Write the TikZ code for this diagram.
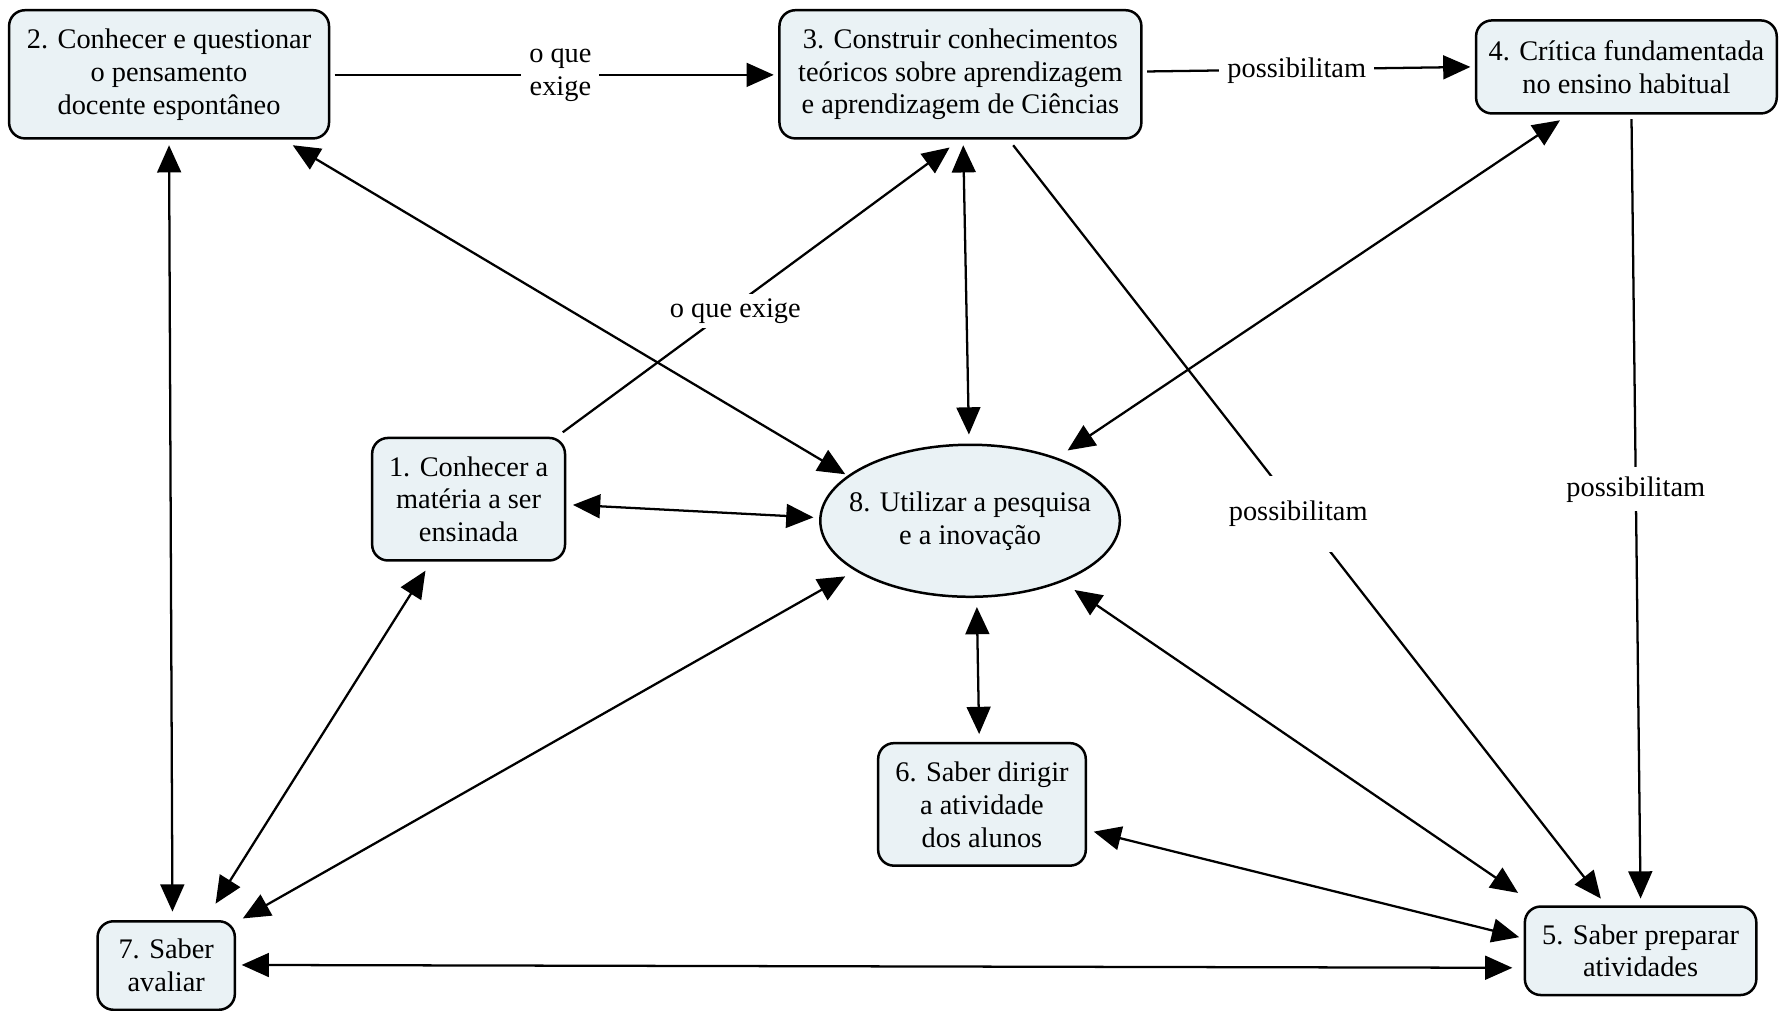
\documentclass[tikz,border=0pt]{standalone}
\usepackage{fontspec}
\setmainfont{Liberation Serif}
\usetikzlibrary{arrows.meta,shapes.geometric}
\definecolor{boxfill}{RGB}{234,242,245}
\newcommand{\fsz}{\fontsize{25pt}{29pt}\selectfont}
\begin{document}
\begin{tikzpicture}[x=1pt,y=-1pt,
  cbox/.style={draw, line width=2.2pt, rounded corners=14pt, fill=boxfill, align=center, inner sep=0pt, font=\fsz},
  cell/.style={draw, line width=2.2pt, ellipse, fill=boxfill, inner sep=0pt},
  ctext/.style={align=center, inner sep=0pt, font=\fsz},
  lbl/.style={fill=white, inner xsep=7pt, inner ysep=5pt, align=center, font=\fsz},
  conn/.style={line width=2pt, -{Triangle[length=24pt,width=21pt]}},
  bconn/.style={line width=2pt, {Triangle[length=24pt,width=21pt]}-{Triangle[length=24pt,width=21pt]}}
]
\useasboundingbox (0,0) rectangle (1568,891);

\node[cbox, minimum width=282pt, minimum height=113pt] (n2) at (149,65.5) {2. Conhecer e questionar\\o pensamento\\docente espontâneo};
\node[cbox, minimum width=319pt, minimum height=113pt] (n3) at (846.5,65.5) {3. Construir conhecimentos\\teóricos sobre aprendizagem\\e aprendizagem de Ciências};
\node[cbox, minimum width=265pt, minimum height=82pt] (n4) at (1433.5,59) {4. Crítica fundamentada\\no ensino habitual};
\node[cbox, minimum width=170pt, minimum height=108pt] (n1) at (413,440) {1. Conhecer a\\matéria a ser\\ensinada};
\node[cell, minimum width=264pt, minimum height=134pt] (n8) at (855,459) {};
\node[ctext] (n8t) at (n8.center) {8. Utilizar a pesquisa\\e a inovação};
\node[cbox, minimum width=183pt, minimum height=108pt] (n6) at (865.5,709) {6. Saber dirigir\\a atividade\\dos alunos};
\node[cbox, minimum width=121pt, minimum height=78pt] (n7) at (146.5,851) {7. Saber\\avaliar};
\node[cbox, minimum width=204pt, minimum height=78pt] (n5) at (1446,838) {5. Saber preparar\\atividades};

% bidirectional connectors
\draw[bconn] ([shift={(109,62.5)}]n2.center) -- ([shift={(-110,-41)}]n8.center);
\draw[bconn] ([shift={(2.5,62.5)}]n3.center) -- ([shift={(-1,-76)}]n8.center);
\draw[bconn] ([shift={(-58.5,47)}]n4.center) -- ([shift={(86,-62)}]n8.center);
\draw[bconn] ([shift={(92,5)}]n1.center) -- ([shift={(-138,-3)}]n8.center);
\draw[bconn] ([shift={(0,62.5)}]n2.center) -- ([shift={(5.5,-47.5)}]n7.center);
\draw[bconn] ([shift={(-38,63)}]n1.center) -- ([shift={(43.5,-54.5)}]n7.center);
\draw[bconn] ([shift={(-110,49)}]n8.center) -- ([shift={(67.5,-41.5)}]n7.center);
\draw[bconn] ([shift={(6,76)}]n8.center) -- ([shift={(-2.5,-62)}]n6.center);
\draw[bconn] ([shift={(92,61)}]n8.center) -- ([shift={(-108,-51)}]n5.center);
\draw[bconn] ([shift={(98.5,24)}]n6.center) -- ([shift={(-107,-12)}]n5.center);
\draw[bconn] ([shift={(66.5,-0.5)}]n7.center) -- ([shift={(-113,15)}]n5.center);

% labelled connectors
\draw[conn] ([shift={(146,0.5)}]n2.center) -- node[lbl, pos=0.514] {o que\\exige} ([shift={(-164.5,0.5)}]n3.center);
\draw[conn] ([shift={(164.5,-2.5)}]n3.center) -- node[lbl, pos=0.463, yshift=-1pt] {possibilitam} ([shift={(-137.5,0)}]n4.center);
\draw[conn] ([shift={(83,-59)}]n1.center) -- node[lbl, pos=0.446, inner ysep=4pt, yshift=-5pt] {o que exige} ([shift={(-9.5,64.5)}]n3.center);
\draw[conn] ([shift={(46.5,62.5)}]n3.center) -- node[lbl, pos=0.485, inner ysep=22pt, yshift=-3pt] {possibilitam} ([shift={(-35,-46)}]n5.center);
\draw[conn] ([shift={(4.5,46)}]n4.center) -- node[lbl, pos=0.472, inner ysep=8pt, yshift=-2pt] {possibilitam} ([shift={(0,-46)}]n5.center);
\end{tikzpicture}
\end{document}
